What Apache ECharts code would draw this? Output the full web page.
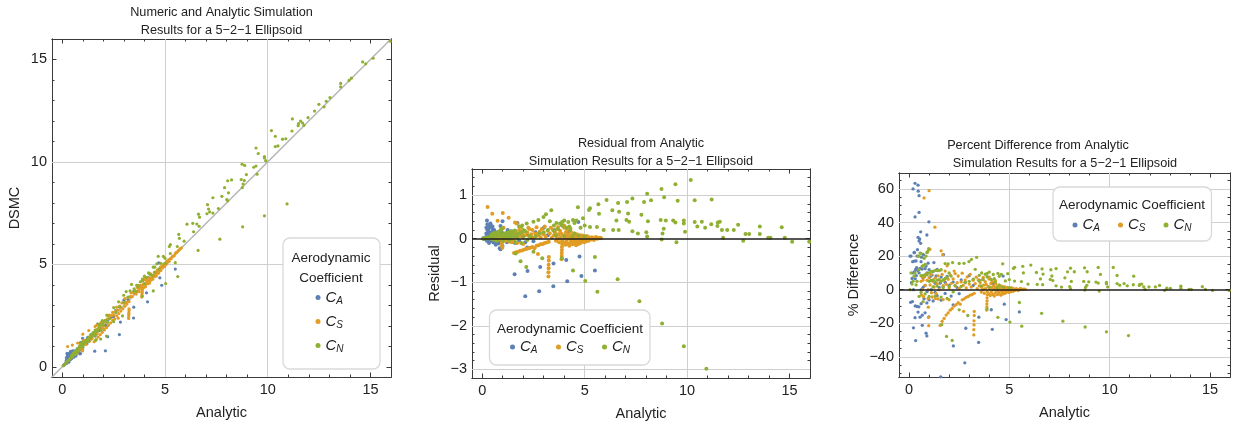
<!DOCTYPE html>
<html>
<head>
<meta charset="utf-8">
<script src="https://cdn.jsdelivr.net/npm/echarts@6/dist/echarts.min.js"></script>
<style>
  html, body { margin: 0; padding: 0; background: #fff; }
  #chart { width: 1233px; height: 425px; }
</style>
</head>
<body>
<div id="chart"></div>
<script>
// Aerodynamic coefficients of a 5-2-1 ellipsoid: analytic value and DSMC residual (DSMC - analytic)
const seriesNames = ['C_A', 'C_S', 'C_N'];
const seriesColors = ['#5E81B5', '#E19C24', '#8FB032'];

// tick labels
const analyticTicks = [0, 5, 10, 15];
const dsmcTicks = [0, 5, 10, 15];
const residualTicks = [-3, -2, -1, 0, 1];
const percentTicks = [-40, -20, 0, 20, 40, 60];

// [analytic, residual]
const caData = [
  [0.05,0.01],[0.08,-0.006],[0.1,0.02],[0.12,0.005],[0.15,0.01],[0.17,-0.012],[0.18,0.03],[0.2,0.12],[0.2,0.02],
  [0.2,0.25],[0.22,-0.05],[0.22,0.0],[0.23,0.42],[0.25,0.33],[0.25,0.2],[0.25,0.055],[0.27,0.046],[0.27,0.06],
  [0.28,0.03],[0.28,0.22],[0.3,0.19],[0.3,0.13],[0.3,0.28],[0.3,-0.05],[0.31,0.02],[0.31,-0.03],[0.33,0.04],
  [0.33,0.25],[0.33,-0.1],[0.35,0.06],[0.35,0.3],[0.36,0.03],[0.38,0.05],[0.38,0.3],[0.4,0.35],[0.4,0.08],
  [0.4,-0.04],[0.42,0.1],[0.42,0.3],[0.44,0.05],[0.45,0.28],[0.45,0.14],[0.45,-0.06],[0.46,0.27],[0.49,-0.05],
  [0.5,0.28],[0.5,0.23],[0.5,0.145],[0.5,0.05],[0.53,0.16],[0.55,0.07],[0.55,-0.09],[0.58,0.2],[0.58,0.16],
  [0.6,0.1],[0.6,0.0],[0.6,-0.05],[0.62,0.12],[0.65,0.08],[0.66,-0.1],[0.66,-0.14],[0.7,0.05],[0.7,0.01],
  [0.72,0.15],[0.75,0.06],[0.75,-0.04],[0.8,0.1],[0.8,0.02],[0.8,-0.11],[0.85,0.12],[0.85,-0.22],[0.89,0.29],
  [0.89,-0.07],[0.89,-0.245],[0.9,0.09],[0.9,-0.01],[0.95,0.15],[0.99,0.4],[0.99,-0.16],[1.0,0.12],[1.0,-0.06],
  [1.05,0.08],[1.1,0.06],[1.1,0.0],[1.15,0.1],[1.2,0.13],[1.2,-0.08],[1.24,0.2],[1.3,0.05],[1.3,-0.02],
  [1.35,0.11],[1.4,0.17],[1.4,-0.05],[1.5,0.02],[1.55,0.06],[1.6,0.12],[1.6,-0.1],[1.7,0.03],[1.72,0.36],
  [1.8,0.08],[1.8,-0.04],[1.9,0.15],[2.0,0.05],[2.1,-0.08],[2.2,0.1],[2.2,-0.2],[2.4,0.03],[2.5,-0.06],
  [2.6,0.15],[2.8,0.12],[3.0,0.25],[3.2,0.08],[3.5,0.2],[3.9,0.3],[4.2,0.15],[4.69,0.38],
  [1.58,-0.82],[2.21,-0.74],[2.83,-0.65],[3.48,-0.57],[4.1,-0.49],[4.75,-0.41],
  [2.1,-1.32],[2.78,-1.21],[3.47,-1.09],[4.15,-0.98],[4.84,-0.86],[5.5,-0.73]
];

const csData = [
  [0.26,0.73],[0.49,0.57],[0.75,0.41],[1.0,0.59],[1.29,0.48],[1.6,0.37],[1.04,0.25],[0.9,0.2],[1.9,0.27],[2.3,0.22],
  [0.6,0.03],[0.62,-0.02],[0.65,0.05],[0.68,0.0],[0.7,0.04],[0.72,-0.03],[0.78,0.06],[0.8,0.02],[0.85,0.08],
  [0.9,0.05],[0.95,0.0],[1.0,0.07],[1.05,0.03],[1.1,0.1],[1.12,-0.02],[1.15,-0.05],[1.2,0.06],[1.25,0.02],
  [1.3,0.09],[1.32,-0.07],[1.35,-0.03],[1.4,0.05],[1.45,0.12],[1.45,-0.08],[1.5,0.0],[1.55,0.08],[1.65,0.15],
  [1.68,0.35],[1.7,0.04],[1.7,-0.1],[1.75,0.1],[1.8,0.2],[1.85,0.06],[1.95,0.12],[2.0,0.02],[2.0,-0.12],
  [2.05,0.18],[2.1,0.08],[2.2,0.14],[2.25,0.25],[2.3,0.05],[2.4,0.1],[2.45,0.2],[2.5,0.02],[2.6,0.12],
  [2.65,0.26],[2.7,0.07],[2.8,0.16],[2.85,0.03],[2.9,0.22],[3.0,0.1],[3.05,0.28],[3.1,0.05],[3.2,0.18],
  [3.3,0.12],[3.35,0.25],[3.4,0.02],[3.45,0.2],[3.5,0.08],[3.7,0.27],[4.0,0.3],[4.3,0.24],
  [0.95,-0.05],[0.96,-0.1],[0.97,-0.16],[0.98,-0.21],[2.55,-0.22],[2.72,-0.35],
  [1.55,-0.33],[1.65,-0.31],[1.75,-0.3],[1.85,-0.28],[1.95,-0.27],[2.05,-0.25],[2.15,-0.24],[2.25,-0.22],
  [2.35,-0.21],[2.45,-0.19],[2.65,-0.16],[2.75,-0.15],[2.85,-0.13],[2.95,-0.12],[3.05,-0.1],[3.15,-0.09],[3.25,-0.07],
  [3.25,-0.42],[3.25,-0.5],[3.24,-0.6],[3.24,-0.68],[3.23,-0.77],[3.23,-0.87],
  [3.9,-0.05],[3.9,-0.12],[3.89,-0.19],[3.89,-0.26],[3.88,-0.33],[3.88,-0.4],[3.87,-0.47],
  [3.55,0.15],[3.6,-0.05],[3.62,0.05],[3.65,0.22],[3.7,0.0],[3.72,0.1],[3.75,-0.08],[3.8,0.18],[3.82,0.03],
  [3.85,0.12],[3.95,0.08],[3.98,-0.1],[4.0,0.25],[4.02,0.02],[4.05,-0.14],[4.08,0.15],[4.1,-0.06],[4.12,0.06],
  [4.15,0.2],[4.18,-0.12],[4.2,0.0],[4.22,0.1],[4.25,-0.16],[4.28,0.04],[4.3,-0.08],[4.32,0.16],[4.35,-0.02],
  [4.38,0.08],[4.4,-0.13],[4.42,0.03],[4.45,-0.06],[4.48,0.12],[4.5,-0.1],[4.52,0.0],[4.55,0.06],[4.58,-0.15],
  [4.6,-0.03],[4.62,0.1],[4.65,-0.08],[4.68,0.02],[4.7,-0.12],[4.72,0.05],[4.75,-0.05],[4.78,0.08],[4.8,-0.1],
  [4.82,0.0],[4.85,0.04],[4.88,-0.06],[4.9,0.07],[4.92,-0.02],[4.95,0.03],[4.98,-0.08],[5.0,0.05],[5.02,-0.04],
  [5.05,0.02],[5.08,-0.06],[5.1,0.06],[5.12,0.0],[5.15,-0.03],[5.18,0.04],[5.2,-0.05],[5.25,0.02],[5.3,-0.02],
  [5.35,0.03],[5.4,0.0],[5.45,-0.03],[5.5,0.02],[5.55,0.04],[5.6,0.0],[5.65,0.02],[5.7,0.01],[5.75,0.02],[5.8,0.01]
];

const cnData = [
  [0.05,0.0],[0.1,0.01],[0.15,0.005],[0.2,0.01],[0.25,0.02],[0.3,0.03],[0.35,0.01],[0.4,0.02],[0.45,0.09],
  [0.5,0.1],[0.5,0.06],[0.5,-0.02],[0.55,0.12],[0.6,0.13],[0.6,0.05],[0.6,-0.01],[0.65,0.09],[0.7,0.1],
  [0.7,0.06],[0.7,-0.05],[0.75,0.14],[0.8,0.12],[0.8,0.07],[0.8,-0.02],[0.85,0.17],[0.9,0.2],[0.9,0.08],
  [0.95,0.22],[0.98,0.24],[1.0,0.1],[1.0,0.05],[1.0,-0.04],[1.1,0.12],[1.1,0.06],[1.2,0.13],[1.2,0.07],
  [1.2,0.02],[1.3,0.15],[1.3,0.06],[1.3,-0.05],[1.4,0.16],[1.4,0.08],[1.4,0.03],[1.5,0.17],[1.5,0.09],
  [1.6,0.19],[1.6,0.08],[1.6,-0.07],[1.7,0.1],[1.7,0.02],[1.8,0.12],[1.8,0.28],[1.9,0.14],[1.9,-0.1],
  [1.95,0.3],[2.0,0.2],[2.0,0.04],[2.1,0.17],[2.2,-0.03],[2.3,0.06],[2.6,0.05],[2.8,0.12],[3.0,0.15],
  [3.2,0.2],[3.5,0.18],[3.6,0.08],[3.7,0.22],[3.9,0.3],[4.0,0.06],[4.1,0.25],[4.3,0.2],[4.4,0.05],
  [4.5,0.12],[4.7,0.07],[5.0,0.05],
  [2.17,0.35],[2.5,0.39],[2.74,0.43],[2.99,0.5],[3.11,0.56],[3.37,0.65],
  [3.3,0.4],[3.5,0.3],[3.62,0.36],[3.8,0.35],[3.9,0.38],[4.0,0.42],[4.2,0.38],[4.25,0.28],[4.43,0.43],
  [4.5,0.36],[4.6,0.42],[4.67,0.72],[4.8,0.25],[4.92,0.47],[5.0,0.3],[5.21,0.66],[5.26,0.7],[5.26,0.27],
  [5.6,0.27],[5.67,0.79],[5.7,0.57],[5.93,0.2],[6.07,0.89],[6.35,0.65],[6.39,0.2],[6.55,0.42],[6.63,0.82],
  [6.66,0.2],[6.68,0.62],[7.04,0.43],[7.07,0.84],[7.12,0.58],[7.17,0.39],[7.33,0.92],[7.33,0.17],[7.6,0.12],
  [7.77,0.55],[7.9,0.84],[8.01,0.15],[8.05,1.03],[8.05,0.05],[8.09,0.4],[8.24,0.88],[8.71,0.43],[8.75,1.14],
  [8.76,-0.02],[8.8,0.12],[8.86,0.23],[8.88,0.95],[8.96,0.42],[9.32,0.42],[9.43,1.25],[9.43,0.37],[9.48,-0.08],
  [9.54,0.87],[9.84,0.42],[9.84,0.35],[9.9,0.16],[10.18,1.35],[10.37,0.88],[10.37,0.38],[10.5,0.28],[10.72,0.39],
  [10.88,0.25],[11.18,0.33],[11.2,0.9],[11.48,0.29],[11.5,0.37],[11.6,0.39],[11.7,0.2],[11.76,0.02],[11.96,0.2],
  [12.28,0.2],[12.49,0.32],[12.74,-0.05],[12.85,0.11],[13.03,0.11],[13.55,0.28],[13.55,0.11],[13.96,0.02],
  [14.07,0.02],[14.62,0.26],[14.77,0.02],[15.13,-0.07],[15.96,-0.07],
  [1.63,-0.34],[1.87,-0.52],[2.15,-0.65],[2.5,-0.3],[2.93,-0.45],[3.89,-0.45],[4.43,-0.73],[5.03,-0.97],
  [5.5,-0.42],[5.62,-1.22],[6.61,-0.93],[7.67,-1.44],[8.78,-1.95],[9.84,-2.47],[10.94,-2.99]
];

const FONT = '"Liberation Sans", Arial, Helvetica, sans-serif';
const INK = '#222';
const FRAME = '#3a3a3a';

// the three panels share the analytic axis
const panels = [
  { grid: { left: 52, top: 39, width: 339, height: 339 }, y: [-0.5, 16], yTicks: dsmcTicks, yStep: 1,
    gridX: [5, 10], gridY: [5, 10], yName: 'DSMC', yGap: 30, size: 3.2,
    toY: (a, r) => +(a + r).toFixed(3) },
  { grid: { left: 472, top: 169, width: 338, height: 209 }, y: [-3.2, 1.6], yTicks: residualTicks, yStep: 0.2,
    gridX: [5, 10], gridY: [-3, -2, -1, 1], yName: 'Residual', yGap: 30, size: 4,
    toY: (a, r) => r },
  { grid: { left: 899, top: 173, width: 331, height: 204 }, y: [-52, 69.5], yTicks: percentTicks, yStep: 5,
    gridX: [5, 10], gridY: [-40, -20, 20, 40, 60], yName: '% Difference', yGap: 38, size: 3.3,
    toY: (a, r) => +(100 * r / a).toFixed(2) }
];
const X_RANGE = [-0.5, 16];

function minorValues(range, step, majors) {
  const out = [];
  const i0 = Math.ceil(range[0] / step - 1e-9), i1 = Math.floor(range[1] / step + 1e-9);
  for (let i = i0; i <= i1; i++) {
    const v = +(i * step).toFixed(6);
    if (!majors.some(m => Math.abs(m - v) < 1e-9)) out.push(v);
  }
  return out;
}

const fmt = v => String(v).replace('-', '\u2212');

function frameAxis(gridIndex, pos, range, values, len, extra) {
  return Object.assign({
    type: 'value', gridIndex, position: pos, min: range[0], max: range[1],
    axisLine: { show: true, onZero: false, lineStyle: { color: FRAME, width: 1 } },
    axisTick: { show: true, inside: true, length: len, customValues: values,
                lineStyle: { color: FRAME, width: 1 } },
    axisLabel: { show: false },
    splitLine: { show: false },
    minorTick: { show: false }, minorSplitLine: { show: false },
    axisPointer: { show: false }
  }, extra || {});
}

const xAxes = [], yAxes = [], series = [];
panels.forEach((p, gi) => {
  const xMinor = minorValues(X_RANGE, 1, analyticTicks);
  const yMinor = minorValues(p.y, p.yStep, p.yTicks);
  const labelStyle = { fontSize: 14.5, color: INK, fontFamily: FONT, margin: 5, formatter: fmt };
  const nameStyle = { fontSize: 14.5, color: INK, fontFamily: FONT };
  xAxes.push(
    frameAxis(gi, 'bottom', X_RANGE, analyticTicks, 4.5, {
      axisLabel: Object.assign({ show: true, customValues: analyticTicks }, labelStyle),
      name: 'Analytic', nameLocation: 'middle', nameGap: 28, nameTextStyle: nameStyle }),
    frameAxis(gi, 'bottom', X_RANGE, xMinor, 2.5),
    frameAxis(gi, 'top', X_RANGE, analyticTicks, 4.5),
    frameAxis(gi, 'top', X_RANGE, xMinor, 2.5)
  );
  yAxes.push(
    frameAxis(gi, 'left', p.y, p.yTicks, 4.5, {
      axisLabel: Object.assign({ show: true, customValues: p.yTicks }, labelStyle),
      name: p.yName, nameLocation: 'middle', nameGap: p.yGap, nameRotate: 90, nameTextStyle: nameStyle }),
    frameAxis(gi, 'left', p.y, yMinor, 2.5),
    frameAxis(gi, 'right', p.y, p.yTicks, 4.5),
    frameAxis(gi, 'right', p.y, yMinor, 2.5)
  );
  const xi = gi * 4, yi = gi * 4;

  // grid lines behind the points
  const gridLines = p.gridX.map(v => ({ xAxis: v })).concat(p.gridY.map(v => ({ yAxis: v })));
  series.push({
    type: 'scatter', name: 'grid' + gi, data: [], xAxisIndex: xi, yAxisIndex: yi, silent: true,
    markLine: { silent: true, symbol: 'none', animation: false, z: 1, label: { show: false },
      lineStyle: { color: '#cfcfcf', width: 1, type: 'solid' }, data: gridLines }
  });

  // reference line: y = x for the comparison panel, zero for the residual panels
  const refLine = gi === 0
    ? { z: 1.5, data: [[{ coord: [X_RANGE[0], X_RANGE[0]] }, { coord: [X_RANGE[1], X_RANGE[1]] }]],
        lineStyle: { color: '#b4b4b4', width: 1.4, type: 'solid' } }
    : { z: 3, data: [{ yAxis: 0 }], lineStyle: { color: '#1e1e1e', width: 1.6, type: 'solid' } };
  series.push({
    type: 'scatter', name: 'ref' + gi, data: [], xAxisIndex: xi, yAxisIndex: yi, silent: true,
    markLine: Object.assign({ silent: true, symbol: 'none', animation: false, label: { show: false } }, refLine)
  });

  [caData, csData, cnData].forEach((d, si) => {
    series.push({
      type: 'scatter', name: seriesNames[si], xAxisIndex: xi, yAxisIndex: yi, z: 2,
      symbol: 'circle', symbolSize: p.size, clip: true,
      itemStyle: { color: seriesColors[si], opacity: 1 },
      emphasis: { disabled: true },
      data: d.map(([a, r]) => [a, p.toY(a, r)])
    });
  });
});

const richItem = {
  c: { fontSize: 15, fontStyle: 'italic', fontFamily: FONT, color: INK, lineHeight: 17 },
  s: { fontSize: 10, fontStyle: 'italic', fontFamily: FONT, color: INK, lineHeight: 8, verticalAlign: 'bottom' }
};
const legendFmt = name => '{c|C}{s|' + name.split('_')[1] + '}';
function legend(extra) {
  return Object.assign({
    data: seriesNames, icon: 'circle', itemWidth: 5, itemHeight: 5, padding: 0,
    selectedMode: false, z: 20, formatter: legendFmt,
    textStyle: { rich: richItem, padding: [0, 0, 0, 0] }
  }, extra);
}

const titleStyle = { fontSize: 12.7, fontFamily: FONT, fill: INK, textAlign: 'center', textVerticalAlign: 'middle' };
const legendTitleStyle = { fontSize: 13.5, fontFamily: FONT, fill: INK, textAlign: 'center', textVerticalAlign: 'middle' };
const txt = (x, y, text, style) => ({ type: 'text', x, y, z: 15, style: Object.assign({ text }, style) });
const box = (x, y, w, h) => ({ type: 'rect', z: 12, shape: { x, y, width: w, height: h, r: 7 },
  style: { fill: '#fff', stroke: '#d9d9d9', lineWidth: 1.3 } });

const option = {
  animation: false,
  backgroundColor: '#fff',
  grid: panels.map(p => Object.assign({ containLabel: false }, p.grid)),
  xAxis: xAxes,
  yAxis: yAxes,
  series,
  legend: [
    legend({ orient: 'vertical', left: 315.5, top: 290, itemGap: 8 }),
    legend({ orient: 'horizontal', left: 510, top: 339.5, itemGap: 18.5 }),
    legend({ orient: 'horizontal', left: 1072.5, top: 217.5, itemGap: 18 })
  ],
  graphic: [
    txt(221.5, 12.5, 'Numeric and Analytic Simulation', titleStyle),
    txt(221.5, 30.5, 'Results for a 5\u22122\u22121 Ellipsoid', titleStyle),
    txt(641, 143.5, 'Residual from Analytic', titleStyle),
    txt(641, 161.5, 'Simulation Results for a 5\u22122\u22121 Ellipsoid', titleStyle),
    txt(1038, 145, 'Percent Difference from Analytic', titleStyle),
    txt(1065, 163, 'Simulation Results for a 5\u22122\u22121 Ellipsoid', titleStyle),
    box(283, 238, 97, 131),
    txt(331, 258, 'Aerodynamic', legendTitleStyle),
    txt(331, 278, 'Coefficient', legendTitleStyle),
    box(489.5, 310, 160.5, 55),
    txt(570, 329, 'Aerodynamic Coefficient', legendTitleStyle),
    box(1053, 187, 158.5, 54),
    txt(1132, 205, 'Aerodynamic Coefficient', legendTitleStyle)
  ]
};

const chart = echarts.init(document.getElementById('chart'), null, { renderer: 'canvas' });
chart.setOption(option);
</script>
</body>
</html>
